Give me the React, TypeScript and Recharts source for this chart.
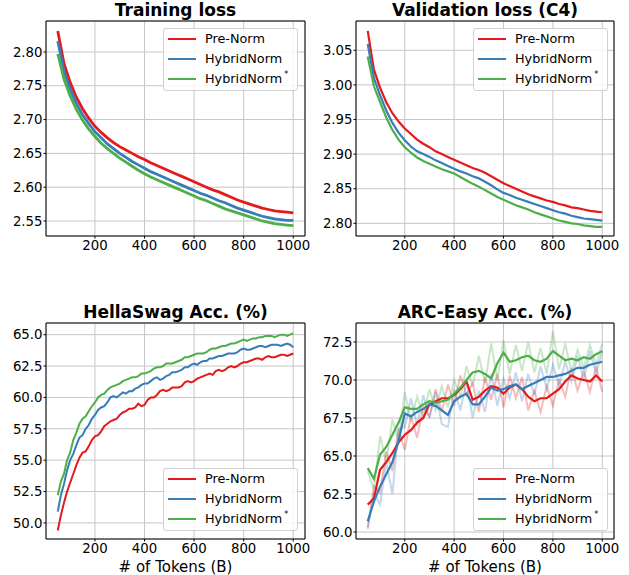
import React from 'react';
import { LineChart, Line, XAxis, YAxis, CartesianGrid, Legend, Label } from 'recharts';

const TOKENS = [50, 75, 100, 125, 150, 175, 200, 225, 250, 275, 300, 325, 350, 375, 400, 425, 450, 475, 500, 525, 550, 575, 600, 625, 650, 675, 700, 725, 750, 775, 800, 825, 850, 875, 900, 925, 950, 975, 1000];
const TOKENS_FINE = [50, 62.5, 75, 87.5, 100, 112.5, 125, 137.5, 150, 162.5, 175, 187.5, 200, 212.5, 225, 237.5, 250, 262.5, 275, 287.5, 300, 312.5, 325, 337.5, 350, 362.5, 375, 387.5, 400, 412.5, 425, 437.5, 450, 462.5, 475, 487.5, 500, 512.5, 525, 537.5, 550, 562.5, 575, 587.5, 600, 612.5, 625, 637.5, 650, 662.5, 675, 687.5, 700, 712.5, 725, 737.5, 750, 762.5, 775, 787.5, 800, 812.5, 825, 837.5, 850, 862.5, 875, 887.5, 900, 912.5, 925, 937.5, 950, 962.5, 975, 987.5, 1000];
const X_TICKS = [200, 400, 600, 800, 1000];
const SERIES_NAMES = ['Pre-Norm', 'HybridNorm', 'HybridNorm'];
const SERIES_SUP = ['', '', '*'];
const COLORS = ['#e41a1c', '#377eb8', '#4daf4a'];

// Training loss
const TRAIN_PRE = [2.831, 2.783, 2.755, 2.733, 2.716, 2.702, 2.690, 2.681, 2.673, 2.666, 2.660, 2.655, 2.650, 2.645, 2.641, 2.636, 2.632, 2.628, 2.624, 2.620, 2.616, 2.612, 2.608, 2.604, 2.600, 2.596, 2.593, 2.589, 2.585, 2.581, 2.578, 2.575, 2.572, 2.569, 2.567, 2.565, 2.564, 2.563, 2.562];
const TRAIN_HYB = [2.816, 2.772, 2.745, 2.724, 2.707, 2.694, 2.682, 2.673, 2.664, 2.657, 2.650, 2.644, 2.638, 2.633, 2.628, 2.623, 2.619, 2.615, 2.611, 2.607, 2.603, 2.599, 2.595, 2.591, 2.588, 2.584, 2.580, 2.577, 2.573, 2.569, 2.566, 2.563, 2.560, 2.557, 2.555, 2.553, 2.552, 2.551, 2.551];
const TRAIN_HYBS = [2.797, 2.760, 2.735, 2.715, 2.699, 2.686, 2.675, 2.665, 2.657, 2.650, 2.643, 2.637, 2.631, 2.625, 2.620, 2.615, 2.611, 2.607, 2.603, 2.599, 2.595, 2.591, 2.587, 2.583, 2.580, 2.576, 2.572, 2.568, 2.565, 2.562, 2.559, 2.556, 2.553, 2.550, 2.548, 2.546, 2.545, 2.544, 2.543];
const TRAIN_TICKS = [2.55, 2.6, 2.65, 2.7, 2.75, 2.8];

// Validation loss (C4)
const VAL_PRE = [3.078, 3.022, 2.996, 2.975, 2.959, 2.947, 2.937, 2.929, 2.921, 2.915, 2.910, 2.904, 2.900, 2.896, 2.892, 2.888, 2.884, 2.880, 2.877, 2.873, 2.868, 2.863, 2.858, 2.854, 2.850, 2.846, 2.842, 2.839, 2.836, 2.833, 2.831, 2.828, 2.826, 2.823, 2.822, 2.820, 2.818, 2.817, 2.816];
const VAL_HYB = [3.059, 3.010, 2.985, 2.963, 2.945, 2.931, 2.920, 2.911, 2.904, 2.900, 2.896, 2.891, 2.887, 2.883, 2.879, 2.875, 2.872, 2.868, 2.865, 2.860, 2.855, 2.849, 2.844, 2.841, 2.837, 2.834, 2.831, 2.828, 2.825, 2.822, 2.819, 2.816, 2.814, 2.811, 2.809, 2.807, 2.806, 2.805, 2.804];
const VAL_HYBS = [3.041, 2.998, 2.975, 2.953, 2.935, 2.921, 2.910, 2.902, 2.895, 2.890, 2.886, 2.882, 2.878, 2.875, 2.872, 2.867, 2.862, 2.857, 2.853, 2.848, 2.843, 2.838, 2.834, 2.830, 2.826, 2.823, 2.820, 2.816, 2.813, 2.810, 2.807, 2.804, 2.802, 2.800, 2.799, 2.797, 2.796, 2.795, 2.795];
const VAL_TICKS = [2.8, 2.85, 2.9, 2.95, 3.0, 3.05];

// HellaSwag Acc. (%) (fine token grid)
const HELLA_PRE = [49.4, 50.6, 51.6, 52.5, 53.2, 53.9, 54.6, 55.2, 55.6, 55.7, 56.1, 56.6, 56.9, 57.0, 57.3, 57.7, 57.9, 58.1, 58.2, 58.3, 58.6, 58.8, 58.9, 59.1, 59.1, 59.2, 59.5, 59.3, 59.4, 59.8, 60.0, 60.0, 60.2, 60.5, 60.6, 60.5, 60.6, 60.8, 60.8, 60.8, 60.9, 61.2, 61.3, 61.2, 61.3, 61.5, 61.6, 61.7, 61.8, 61.9, 61.8, 62.1, 62.2, 62.1, 62.2, 62.4, 62.5, 62.4, 62.5, 62.7, 62.8, 62.8, 62.9, 63.0, 63.1, 63.1, 63.0, 63.2, 63.3, 63.2, 63.2, 63.3, 63.4, 63.4, 63.3, 63.4, 63.5];
const HELLA_HYB = [50.9, 52.2, 53.1, 54.2, 55.0, 55.5, 56.2, 56.8, 57.0, 57.5, 57.8, 58.3, 58.6, 59.0, 59.2, 59.3, 59.6, 60.0, 60.1, 60.0, 60.2, 60.4, 60.3, 60.5, 60.5, 60.7, 60.8, 61.0, 61.1, 61.1, 61.3, 61.5, 61.6, 61.4, 61.5, 61.7, 61.8, 62.0, 62.0, 62.1, 62.2, 62.4, 62.4, 62.6, 62.7, 62.6, 62.8, 62.9, 62.9, 63.1, 63.1, 63.2, 63.3, 63.3, 63.4, 63.5, 63.5, 63.5, 63.6, 63.8, 63.9, 63.8, 63.8, 63.9, 64.0, 64.1, 64.1, 64.0, 64.1, 64.2, 64.2, 64.2, 64.1, 64.2, 64.3, 64.2, 64.0];
const HELLA_HYBS = [52.2, 53.3, 53.9, 55.0, 55.6, 56.6, 57.2, 57.9, 58.3, 58.5, 58.9, 59.3, 59.6, 60.0, 60.2, 60.3, 60.6, 60.8, 60.9, 61.0, 61.1, 61.3, 61.4, 61.5, 61.6, 61.6, 61.7, 61.9, 61.9, 62.0, 62.1, 62.3, 62.4, 62.4, 62.5, 62.7, 62.7, 62.7, 62.8, 62.9, 63.0, 63.2, 63.2, 63.3, 63.4, 63.5, 63.5, 63.5, 63.6, 63.8, 63.9, 63.9, 64.0, 64.1, 64.1, 64.2, 64.3, 64.3, 64.4, 64.5, 64.6, 64.5, 64.6, 64.7, 64.7, 64.8, 64.8, 64.9, 64.9, 64.9, 64.8, 64.9, 65.0, 65.0, 64.9, 65.0, 65.1];
const HELLA_TICKS = [50, 52.5, 55, 57.5, 60, 62.5, 65];

// ARC-Easy Acc. (%) smoothed
const ARC_PRE = [61.8, 62.2, 64.1, 64.6, 65.2, 65.9, 66.4, 66.7, 67.2, 67.5, 68.4, 68.6, 68.8, 68.8, 69.0, 69.4, 69.9, 68.7, 68.9, 69.3, 69.6, 69.5, 69.1, 69.5, 69.7, 69.4, 68.9, 68.6, 68.8, 68.8, 69.1, 69.4, 69.9, 70.3, 70.1, 70.0, 69.9, 70.3, 69.9];
const ARC_HYB = [60.7, 62.0, 63.0, 63.8, 64.6, 66.0, 67.8, 67.6, 67.9, 68.1, 68.4, 68.3, 68.0, 67.7, 68.6, 68.9, 69.1, 68.4, 68.4, 68.9, 69.5, 69.3, 69.4, 69.6, 69.7, 69.4, 69.6, 69.8, 70.0, 70.2, 70.2, 70.3, 70.4, 70.6, 70.8, 70.8, 71.0, 71.1, 71.2];
const ARC_HYBS = [64.2, 63.5, 65.1, 65.6, 66.4, 67.2, 68.2, 68.1, 68.1, 68.4, 68.6, 68.5, 68.6, 68.7, 69.1, 69.5, 70.0, 70.5, 70.6, 70.4, 70.1, 71.1, 71.8, 71.2, 71.3, 71.5, 71.6, 71.3, 71.2, 71.4, 71.9, 71.6, 71.3, 71.4, 71.3, 71.5, 71.4, 71.7, 71.9];
// ARC-Easy raw (faint)
const ARC_PRE_RAW = [60.2, 63.0, 62.6, 65.3, 64.0, 66.8, 65.4, 67.6, 66.2, 68.2, 67.6, 69.4, 67.9, 69.7, 68.3, 70.3, 69.0, 69.8, 67.9, 70.2, 68.7, 70.4, 68.2, 70.3, 68.8, 70.2, 68.0, 69.3, 67.9, 69.6, 68.3, 70.0, 68.9, 70.8, 69.3, 70.6, 69.2, 70.9, 69.2];
const ARC_HYB_RAW = [60.3, 62.6, 61.8, 64.6, 62.5, 66.8, 66.9, 68.8, 67.0, 69.0, 67.5, 69.2, 67.1, 66.9, 69.4, 68.0, 69.9, 67.5, 69.3, 67.9, 70.4, 68.3, 70.1, 68.8, 70.5, 68.6, 70.4, 69.0, 70.9, 69.4, 71.0, 69.6, 71.2, 69.9, 71.6, 70.0, 71.9, 70.4, 71.9];
const ARC_HYBS_RAW = [64.0, 62.8, 66.3, 64.6, 67.4, 66.0, 69.2, 67.3, 68.9, 67.6, 69.4, 68.0, 69.6, 68.2, 70.0, 68.9, 70.9, 69.6, 71.6, 69.8, 72.4, 70.0, 72.6, 70.4, 72.3, 70.6, 72.5, 70.5, 72.1, 70.4, 73.2, 70.7, 72.4, 70.5, 72.0, 70.8, 72.3, 71.0, 72.4];
const ARC_TICKS = [60, 62.5, 65, 67.5, 70, 72.5];

const FONT = 'DejaVu Sans';
const KEYS = ['pre', 'hyb', 'hybs'];

function buildRows(tokens: number[], a: number[], b: number[], c: number[], raw?: number[][]) {
  return tokens.map((x, i) => {
    const r: any = { x, pre: a[i], hyb: b[i], hybs: c[i] };
    if (raw) {
      r.preRaw = raw[0][i];
      r.hybRaw = raw[1][i];
      r.hybsRaw = raw[2][i];
    }
    return r;
  });
}

const LegendBox = () => (
  <div
    style={{
      position: 'relative',
      width: 135,
      height: 63,
      boxSizing: 'border-box',
      border: '1px solid #d0d0d0',
      borderRadius: 3,
      background: 'rgba(255,255,255,0.85)',
      fontFamily: FONT,
      fontSize: 12.8,
      color: '#000',
    }}
  >
    {SERIES_NAMES.map((name, i) => (
      <div key={i} style={{ position: 'absolute', left: 0, top: 2 + i * 20, height: 16, width: 133 }}>
        <div style={{ position: 'absolute', left: 4, top: 7, width: 28, height: 2, background: COLORS[i] }} />
        <div style={{ position: 'absolute', left: 41, top: 0, lineHeight: '16px', whiteSpace: 'nowrap' }}>
          {name}
          {SERIES_SUP[i] ? (
            <span style={{ fontSize: 8, position: 'relative', top: -6, marginLeft: 2 }}>{SERIES_SUP[i]}</span>
          ) : null}
        </div>
      </div>
    ))}
  </div>
);

type PanelProps = {
  left: number;
  top: number;
  width: number;
  height: number;
  margin: { top: number; right: number; bottom: number; left: number };
  xAxisHeight: number;
  title: string;
  rows: any[];
  yDomain: [number, number];
  yTicks: number[];
  yDecimals: number;
  legendLeft: number;
  legendTop: number;
  xLabel?: string;
  lineWidth: number;
  withRaw?: boolean;
};

const Panel = (p: PanelProps) => (
  <div style={{ position: 'absolute', left: p.left, top: p.top, width: p.width, height: p.height }}>
    <LineChart width={p.width} height={p.height} data={p.rows} margin={p.margin} style={{ fontFamily: FONT }}>
      <CartesianGrid stroke="#c6c6c6" strokeWidth={1} />
      <XAxis
        dataKey="x"
        type="number"
        domain={[2.5, 1047.5]}
        ticks={X_TICKS}
        interval={0}
        allowDataOverflow
        height={p.xAxisHeight}
        tickSize={2.5}
        tickMargin={2.2}
        tick={{ fontSize: 13.3, fill: '#000', fontFamily: FONT }}
        axisLine={{ stroke: '#000', strokeWidth: 1 }}
        tickLine={{ stroke: '#000' }}
      >
        {p.xLabel ? (
          <Label value={p.xLabel} position="insideBottom" offset={3} fontSize={15} fill="#000" fontFamily={FONT} />
        ) : null}
      </XAxis>
      <XAxis
        xAxisId="top"
        orientation="top"
        dataKey="x"
        type="number"
        domain={[2.5, 1047.5]}
        allowDataOverflow
        height={1}
        tick={false}
        tickLine={false}
        axisLine={{ stroke: '#000', strokeWidth: 1 }}
        label={{ value: p.title, position: 'top', offset: 4, fontSize: 17, fontWeight: 'bold', fill: '#000', fontFamily: FONT }}
      />
      <YAxis
        type="number"
        domain={p.yDomain}
        ticks={p.yTicks}
        interval={0}
        allowDataOverflow
        width={46}
        tickSize={2.5}
        tickMargin={1}
        tickFormatter={(v: number) => v.toFixed(p.yDecimals)}
        tick={{ fontSize: 13.3, fill: '#000', fontFamily: FONT }}
        axisLine={{ stroke: '#000', strokeWidth: 1 }}
        tickLine={{ stroke: '#000' }}
      />
      <YAxis
        yAxisId="right"
        orientation="right"
        type="number"
        domain={p.yDomain}
        allowDataOverflow
        width={1}
        tick={false}
        tickLine={false}
        axisLine={{ stroke: '#000', strokeWidth: 1 }}
      />
      {p.withRaw
        ? KEYS.map((k, i) => (
            <Line
              key={k + 'raw'}
              dataKey={k + 'Raw'}
              type="linear"
              stroke={COLORS[i]}
              strokeOpacity={0.3}
              strokeWidth={2}
              dot={false}
              activeDot={false}
              isAnimationActive={false}
            />
          ))
        : null}
      {KEYS.map((k, i) => (
        <Line
          key={k}
          dataKey={k}
          type="linear"
          stroke={COLORS[i]}
          strokeWidth={p.lineWidth}
          dot={false}
          activeDot={false}
          isAnimationActive={false}
        />
      ))}
      <Legend
        layout="vertical"
        align="center"
        verticalAlign="middle"
        wrapperStyle={{ left: p.legendLeft, top: p.legendTop, width: 135, height: 63 }}
        content={() => <LegendBox />}
      />
    </LineChart>
  </div>
);

export default function App() {
  const topMargin = { top: 20, right: 14, bottom: 24, left: 0 };
  const botMargin = { top: 32, right: 14, bottom: 0, left: 0 };
  return (
    <div style={{ position: 'absolute', left: 0, top: 0, width: 629, height: 575, background: '#fff', overflow: 'hidden' }}>
      <Panel
        left={0} top={0} width={320} height={290} margin={topMargin} xAxisHeight={30}
        title="Training loss" rows={buildRows(TOKENS, TRAIN_PRE, TRAIN_HYB, TRAIN_HYBS)}
        yDomain={[2.5278, 2.8458]} yTicks={TRAIN_TICKS} yDecimals={2}
        legendLeft={163} legendTop={28} lineWidth={2.8}
      />
      <Panel
        left={310} top={0} width={319} height={290} margin={topMargin} xAxisHeight={30}
        title="Validation loss (C4)" rows={buildRows(TOKENS, VAL_PRE, VAL_HYB, VAL_HYBS)}
        yDomain={[2.7817, 3.0923]} yTicks={VAL_TICKS} yDecimals={2}
        legendLeft={163} legendTop={28} lineWidth={2.2}
      />
      <Panel
        left={0} top={290} width={320} height={285} margin={botMargin} xAxisHeight={36}
        title="HellaSwag Acc. (%)" rows={buildRows(TOKENS_FINE, HELLA_PRE, HELLA_HYB, HELLA_HYBS)}
        yDomain={[48.72, 65.93]} yTicks={HELLA_TICKS} yDecimals={1}
        legendLeft={163} legendTop={178} lineWidth={2}
        xLabel="# of Tokens (B)"
      />
      <Panel
        left={310} top={290} width={319} height={285} margin={botMargin} xAxisHeight={36}
        title="ARC-Easy Acc. (%)" rows={buildRows(TOKENS, ARC_PRE, ARC_HYB, ARC_HYBS, [ARC_PRE_RAW, ARC_HYB_RAW, ARC_HYBS_RAW])}
        yDomain={[59.54, 73.75]} yTicks={ARC_TICKS} yDecimals={1}
        legendLeft={163} legendTop={178} lineWidth={2.2}
        xLabel="# of Tokens (B)" withRaw
      />
    </div>
  );
}
